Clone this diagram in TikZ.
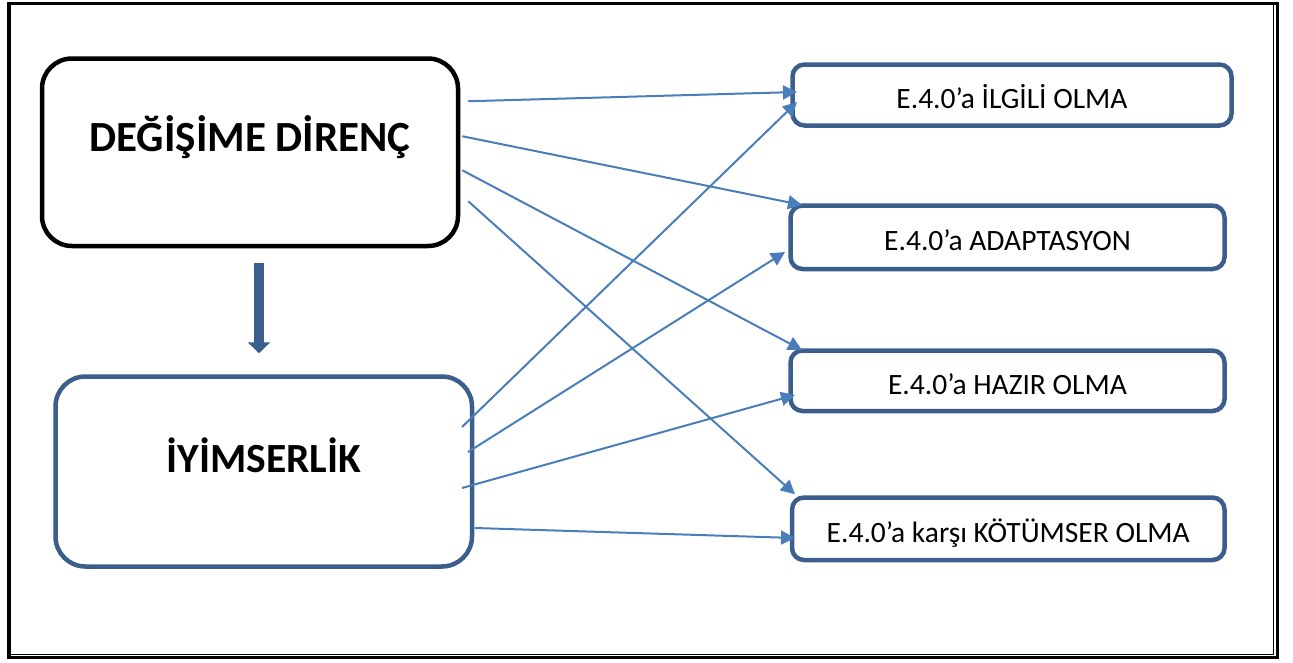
\documentclass[tikz,border=0pt]{standalone}
\usepackage{fontspec}
\setmainfont{Carlito}
\usetikzlibrary{arrows.meta,positioning,calc}
\definecolor{kutu}{HTML}{3B5E8C}
\definecolor{ok}{HTML}{4A7EBB}

\begin{document}
\begin{tikzpicture}[x=1pt,y=-1pt,
  buyuk/.style={draw,line width=4.5pt,rounded corners=30pt,minimum width=416pt,
    font=\fontsize{43}{52}\selectfont\bfseries,text height=27.7pt,text depth=30pt},
  kucuk/.style={draw=kutu,line width=4.5pt,rounded corners=12pt,
    font=\fontsize{29.5}{35}\selectfont,text height=27pt,text depth=0pt},
  bag/.style={ok,line width=2pt,-{Triangle[length=14pt,width=14pt]}}]
\useasboundingbox (0,0) rectangle (1293,662);
% cerceve
\draw[line width=3.5pt] (9,3.5) rectangle (1277.5,657.5);
\draw[line width=1.5pt] (1273.5,3.5) -- (1273.5,654.5) -- (9,654.5);

\node[buyuk,minimum height=187.5pt] (direnc) at (250,152.25) {DEĞİŞİME DİRENÇ};
\node[buyuk,draw=kutu,minimum width=416.5pt,minimum height=190pt,
  font=\fontsize{41.5}{50}\selectfont\bfseries,text height=26.7pt,text depth=25pt] (iyim) at (263.75,471.5) {İYİMSERLİK};

\node[kucuk,minimum width=439pt,minimum height=61pt] (e1) at (1012,95) {E.4.0’a İLGİLİ OLMA};
\node[kucuk,minimum width=434pt,minimum height=63.5pt] (e2) at (1007.5,237.25) {E.4.0’a ADAPTASYON};
\node[kucuk,minimum width=434pt,minimum height=60.5pt] (e3) at (1007.5,380.75) {E.4.0’a HAZIR OLMA};
\node[kucuk,minimum width=432.5pt,minimum height=62.5pt] (e4) at (1008.25,528.75) {E.4.0’a karşı KÖTÜMSER OLMA};

% blok ok
\draw[kutu,line width=10pt,-{Triangle[length=11pt,width=22pt]},shorten <=15pt,shorten >=21pt]
  ([xshift=9pt]direnc.south) -- ([xshift=9pt]direnc.south |- iyim.north);

\foreach \dx/\dy/\hedef/\ex/\ey in {8/-51/e1.west/6.75/-3, 2/-16/e2.north west/13.75/1.75,
    2/18/e3.north west/13.75/1.75, 8/49/e4.north west/5.25/-1}
  \draw[bag] ([shift={(\dx,\dy)}]direnc.east) -- ([shift={(\ex,\ey)}]\hedef);
\foreach \dx/\dy/\hedef/\ex/\ey in {-12.25/-44.5/e1/6.75/7, -6.25/-19.5/e2/-3.25/14.75,
    -12.25/16.5/e3/6.75/14.25, 0.75/56.5/e4/5.25/9.25}
  \draw[bag] ([shift={(\dx,\dy)}]iyim.east) -- ([shift={(\ex,\ey)}]\hedef.west);
\end{tikzpicture}
\end{document}
